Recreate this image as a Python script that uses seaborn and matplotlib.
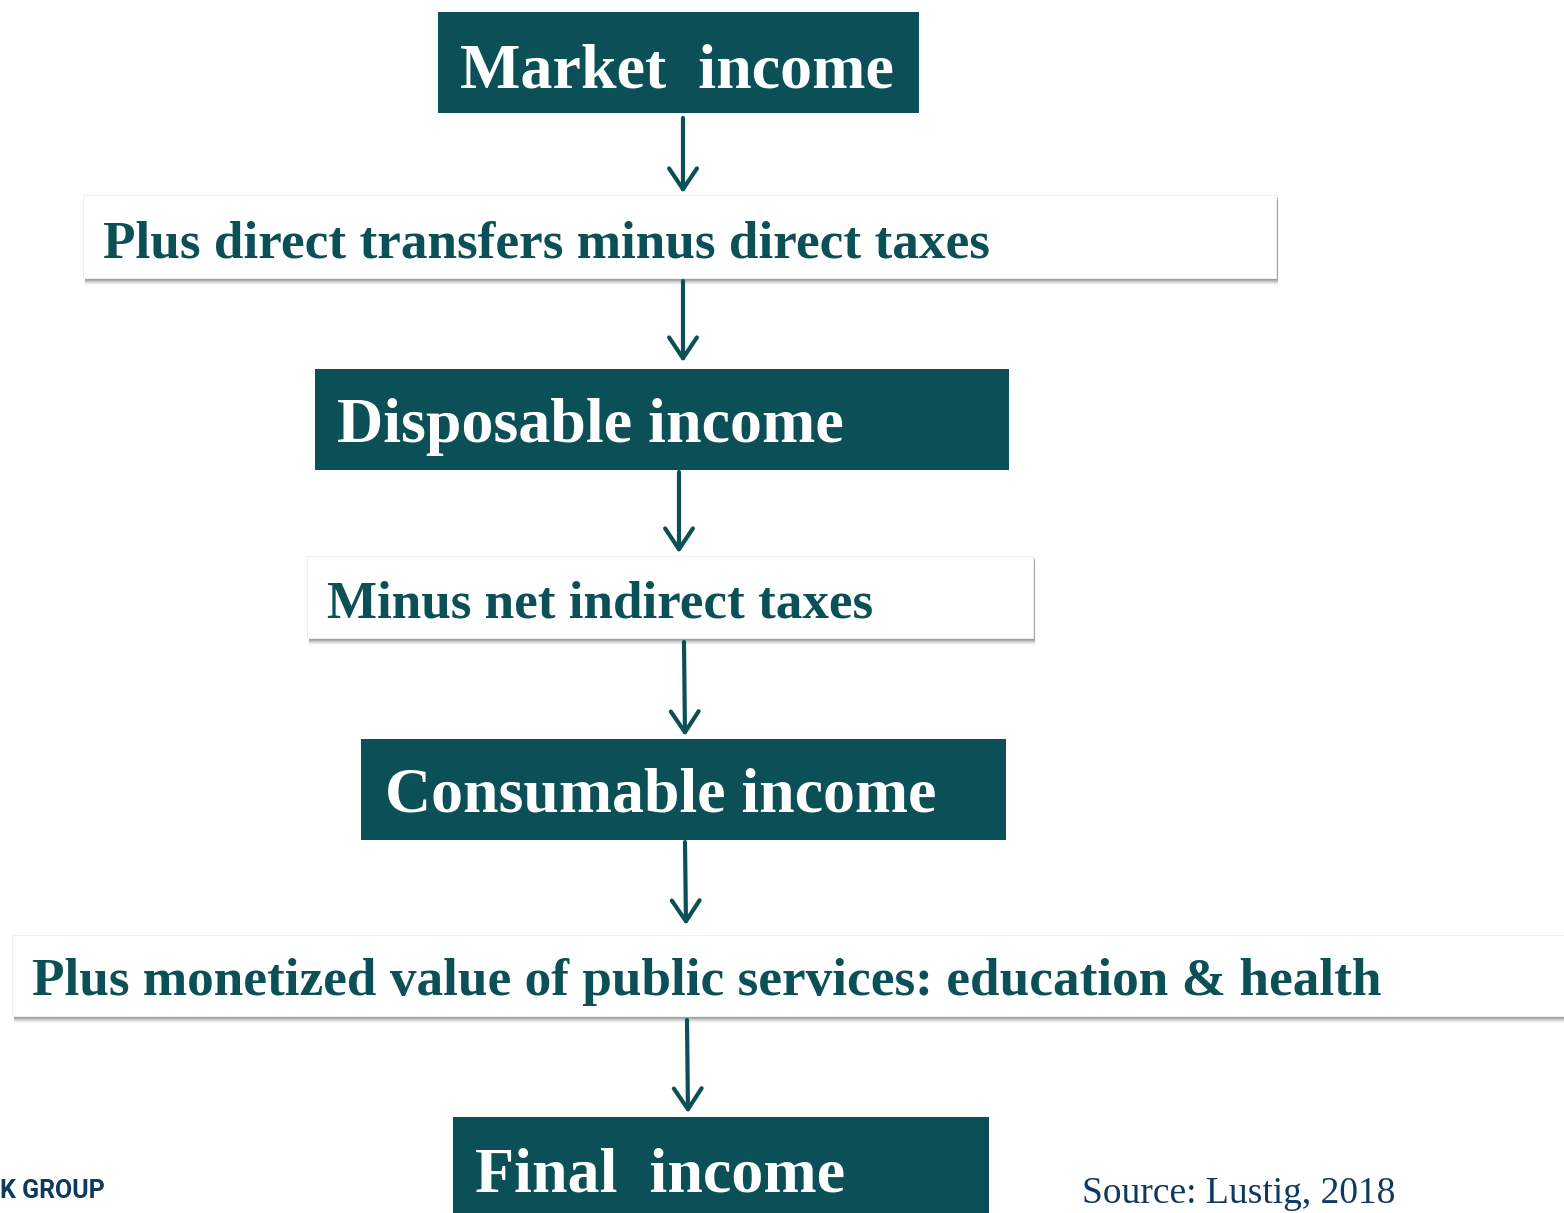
import matplotlib
matplotlib.use("Agg")
import matplotlib.pyplot as plt
import seaborn as sns
from matplotlib.patches import Rectangle

# flow steps, top to bottom
labels = [
    "Market  income",
    "Plus direct transfers minus direct taxes",
    "Disposable income",
    "Minus net indirect taxes",
    "Consumable income",
    "Plus monetized value of public services: education & health",
    "Final  income",
]
kinds = ["income", "step", "income", "step", "income", "step", "income"]

# box layout in pixels: left, top, right, bottom
boxes = [
    (438, 12, 919, 113),
    (83, 195, 1276, 278),
    (315, 369, 1009, 470),
    (307, 556, 1033, 638),
    (361, 739, 1006, 840),
    (12, 935, 1580, 1016),
    (453, 1117, 989, 1230),
]
# text start x, baseline y, target width
text_pos = [
    (460, 87, 433),
    (103, 257, 886),
    (337, 442, 506),
    (327, 617, 546),
    (385, 812, 551),
    (32, 995, 1347),
    (475, 1191, 370),
]
arrows = [
    ((683, 118), (683, 193)),
    ((683, 281), (683, 362)),
    ((679, 472), (679, 553)),
    ((684, 642), (685, 736)),
    ((685, 842), (686, 925)),
    ((687, 1020), (688, 1113)),
]

teal = "#0b5057"
navy = "#0f3a5f"

sns.set_theme(style="white")
plt.rcParams["font.family"] = ["Liberation Serif", "DejaVu Serif"]

fig = plt.figure(figsize=(15.64, 12.13), dpi=100)
ax = fig.add_axes([0, 0, 1, 1])
ax.set_xlim(0, 1564)
ax.set_ylim(1213, 0)
ax.axis("off")

for (x0, y0, x1, y1), kind in zip(boxes, kinds):
    if kind == "income":
        ax.add_patch(Rectangle((x0, y0), x1 - x0, y1 - y0, facecolor=teal,
                               edgecolor="none", zorder=2))
    else:
        # soft drop shadow
        for off, a in [(7, 0.06), (6, 0.10), (5, 0.14), (4, 0.2), (3, 0.3), (2, 0.35)]:
            ax.add_patch(Rectangle((x0 + 2, y0 + off), x1 - x0, y1 - y0,
                                   facecolor="#7a7a7a", alpha=a,
                                   edgecolor="none", zorder=1))
        ax.add_patch(Rectangle((x0, y0), x1 - x0, y1 - y0, facecolor="white",
                               edgecolor="#f0f0f0", linewidth=0.8, zorder=2))

texts = []
for lab, kind, (tx, ty, tw) in zip(labels, kinds, text_pos):
    col = "white" if kind == "income" else teal
    t = ax.text(tx, ty, lab, color=col, fontsize=40, fontweight="bold",
                ha="left", va="baseline", zorder=3)
    texts.append((t, tw))

# scale each label so it spans the same width as in the source
fig.canvas.draw()
r = fig.canvas.get_renderer()
for t, tw in texts:
    w = t.get_window_extent(renderer=r).width
    t.set_fontsize(40 * tw / w)

for (sx, sy), (ex, ey) in arrows:
    ax.annotate("", xy=(ex, ey), xytext=(sx, sy),
                arrowprops=dict(arrowstyle="->,head_length=0.75,head_width=0.5",
                                color=teal, lw=3.0, mutation_scale=20,
                                shrinkA=0, shrinkB=0), zorder=4)

ax.text(0, 1198, "K GROUP", color=navy, fontsize=18, fontweight="bold",
        family=["Roboto", "Liberation Sans", "DejaVu Sans"],
        ha="left", va="baseline")
ax.text(1082, 1203, "Source: Lustig, 2018", color=navy, fontsize=27,
        ha="left", va="baseline")

fig.savefig("out.png", dpi=100, facecolor="white")
